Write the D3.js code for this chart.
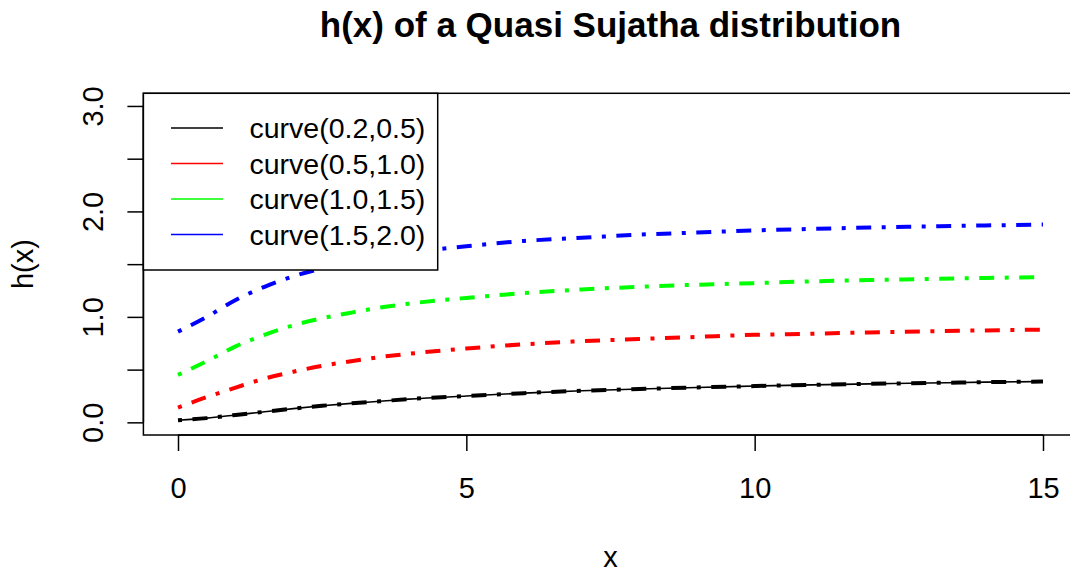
<!DOCTYPE html>
<html>
<head>
<meta charset="utf-8">
<script src="https://cdn.jsdelivr.net/npm/d3@7"></script>
<style>
  html, body { margin: 0; padding: 0; background: #fff; }
  svg { display: block; }
  text { font-family: "Liberation Sans", Arial, sans-serif; fill: #000; }
</style>
</head>
<body>
<svg id="chart" width="1070" height="573"></svg>
<script>
// ---- data ----
const xs = [0, 0.5, 1, 1.5, 2, 2.5, 3, 3.5, 4, 5, 6, 7, 8, 9, 10, 11, 12, 13, 14, 15];
const curveBlack = [0.02, 0.04, 0.07, 0.10, 0.13, 0.157, 0.18, 0.20, 0.22, 0.25, 0.277, 0.30, 0.316, 0.331, 0.344, 0.355, 0.365, 0.373, 0.381, 0.387];
const curveRed   = [0.14, 0.24, 0.33, 0.415, 0.48, 0.536, 0.58, 0.619, 0.65, 0.70, 0.74, 0.77, 0.79, 0.81, 0.83, 0.84, 0.853, 0.863, 0.872, 0.879];
const curveGreen = [0.45, 0.58, 0.72, 0.83, 0.92, 0.987, 1.04, 1.088, 1.125, 1.18, 1.225, 1.26, 1.285, 1.305, 1.32, 1.337, 1.349, 1.359, 1.369, 1.377];
const curveBlue  = [0.86, 1.00, 1.16, 1.285, 1.385, 1.46, 1.52, 1.571, 1.61, 1.67, 1.72, 1.75, 1.78, 1.80, 1.82, 1.834, 1.847, 1.858, 1.867, 1.875];
const seriesNames = ["curve(0.2,0.5)", "curve(0.5,1.0)", "curve(1.0,1.5)", "curve(1.5,2.0)"];
const seriesColors = ["#000000", "#FF0000", "#00FF00", "#0000FF"];
const xTicks = [0, 5, 10, 15];
const yTicks = [0, 0.5, 1, 1.5, 2, 2.5, 3];
const yTickLabels = ["0.0", "", "1.0", "", "2.0", "", "3.0"];
const titleText = "h(x) of a Quasi Sujatha distribution";
const xLabel = "x";
const yLabel = "h(x)";

const seriesValues = [curveBlack, curveRed, curveGreen, curveBlue];

// ---- layout ----
const svg = d3.select("#chart");
const pL = 143.4, pR = 1077.6, pT = 93.3, pB = 435;
const x = d3.scaleLinear().domain([-0.6, 15.6]).range([pL, pR]);
const y = d3.scaleLinear().domain([-0.12, 3.12]).range([pB, pT]);

svg.append("defs").append("clipPath").attr("id", "plotclip")
  .append("rect").attr("x", pL).attr("y", pT)
  .attr("width", pR - pL).attr("height", pB - pT);

// curves
const line = d3.line().x(d => x(d[0])).y(d => y(d[1])).curve(d3.curveMonotoneX);
const g = svg.append("g").attr("clip-path", "url(#plotclip)");

// thin solid base line for the first series
g.append("path")
  .datum(xs.map((v, i) => [v, curveBlack[i]]))
  .attr("d", line).attr("fill", "none")
  .attr("stroke", "#000").attr("stroke-width", 1.6);

seriesValues.forEach((vals, k) => {
  g.append("path")
    .datum(xs.map((v, i) => [v, vals[i]]))
    .attr("d", line).attr("fill", "none")
    .attr("stroke", seriesColors[k]).attr("stroke-width", 4)
    .attr("stroke-dasharray", "4,10.5,15,10.5")
    .attr("stroke-linecap", "butt");
});

// box
svg.append("rect").attr("x", pL).attr("y", pT)
  .attr("width", pR - pL).attr("height", pB - pT)
  .attr("fill", "none").attr("stroke", "#000").attr("stroke-width", 1.5);

// x axis
const xAxis = d3.axisBottom(x).tickValues(xTicks).tickSize(16).tickPadding(16)
  .tickFormat(d3.format("d"));
const gx = svg.append("g").attr("transform", `translate(0,${pB})`).call(xAxis);
gx.select(".domain").attr("d", `M${x(0)},0H${x(15)}`).attr("stroke", "#000").attr("stroke-width", 1.5);
gx.selectAll(".tick line").attr("stroke", "#000").attr("stroke-width", 1.5);
gx.selectAll(".tick text").attr("font-size", 29).attr("font-family", '"Liberation Sans", Arial, sans-serif')
  .attr("fill", "#000").attr("dy", null).attr("y", 63);

// y axis
const yAxis = d3.axisLeft(y).tickValues(yTicks).tickSize(16)
  .tickFormat((d, i) => yTickLabels[i]);
const gy = svg.append("g").attr("transform", `translate(${pL},0)`).call(yAxis);
gy.select(".domain").attr("d", `M0,${y(0)}V${y(3)}`).attr("stroke", "#000").attr("stroke-width", 1.5);
gy.selectAll(".tick line").attr("stroke", "#000").attr("stroke-width", 1.5);
gy.selectAll(".tick text")
  .attr("font-size", 29).attr("font-family", '"Liberation Sans", Arial, sans-serif')
  .attr("fill", "#000")
  .attr("x", null).attr("dy", null)
  .attr("text-anchor", "middle")
  .attr("transform", "translate(-40,0) rotate(-90)");

// titles
svg.append("text").attr("x", (pL + pR) / 2).attr("y", 37)
  .attr("text-anchor", "middle").attr("font-size", 35).attr("font-weight", "bold")
  .text(titleText);
svg.append("text").attr("x", (pL + pR) / 2).attr("y", 567)
  .attr("text-anchor", "middle").attr("font-size", 29).text(xLabel);
svg.append("text").attr("transform", `translate(33,${(pT + pB) / 2}) rotate(-90)`)
  .attr("text-anchor", "middle").attr("font-size", 29).text(yLabel);

// legend
const lg = svg.append("g");
lg.append("rect").attr("x", pL).attr("y", pT).attr("width", 437.7 - pL).attr("height", 270 - pT)
  .attr("fill", "#fff").attr("stroke", "#000").attr("stroke-width", 1.5);
seriesNames.forEach((name, i) => {
  const ly = 128 + i * 35.5;
  lg.append("line").attr("x1", 171).attr("x2", 223).attr("y1", ly).attr("y2", ly)
    .attr("stroke", seriesColors[i]).attr("stroke-width", 1.5);
  lg.append("text").attr("x", 249.5).attr("y", ly + 10).attr("font-size", 28.5).text(name);
});
</script>
</body>
</html>
